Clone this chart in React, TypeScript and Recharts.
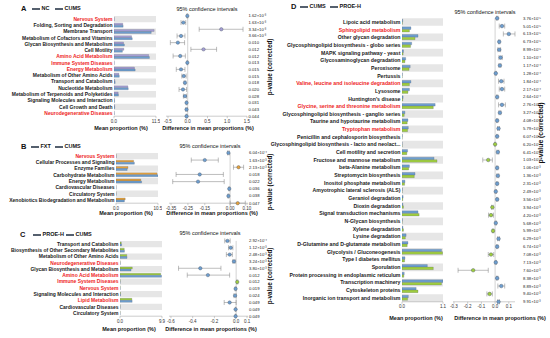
import React from 'react';
import { ComposedChart, Bar, Line, XAxis, YAxis, ErrorBar, ReferenceArea, ReferenceLine } from 'recharts';

const FONT = '"Liberation Sans", Arial, sans-serif';
const BLUE = '#6d9ecf';
const PURPLE = '#a69ed4';
const ORANGE = '#e6a23c';
const GREEN = '#9fcd3e';
const RED = '#ee1c1c';
const STRIPE = '#e6e6e6';

// ---- panel A: NC vs CUMS
const A_NAMES = [
  'Nervous System', 'Folding, Sorting and Degradation', 'Membrane Transport', 'Metabolism of Cofactors and Vitamins',
  'Glycan Biosynthesis and Metabolism', 'Cell Motility', 'Amino Acid Metabolism', 'Immune System Diseases',
  'Energy Metabolism', 'Metabolism of Other Amino Acids', 'Transport and Catabolism', 'Nucleotide Metabolism',
  'Metabolism of Terpenoids and Polyketides', 'Signaling Molecules and Interaction', 'Cell Growth and Death',
  'Neurodegenerative Diseases',
];
const A_RED = ['Nervous System', 'Amino Acid Metabolism', 'Immune System Diseases', 'Energy Metabolism', 'Neurodegenerative Diseases'];
const A_NC = [0.04, 2.4, 11.0, 4.8, 2.6, 2.7, 9.5, 0.04, 5.6, 1.35, 0.25, 3.8, 1.15, 0.12, 0.18, 0.04];
const A_CUMS = [0.05, 2.5, 10.2, 5.0, 2.85, 2.3, 9.7, 0.05, 5.8, 1.45, 0.32, 3.9, 1.22, 0.15, 0.21, 0.07];
const A_DIFF = [-0.01, -0.11, 0.85, -0.17, -0.25, 0.4, -0.19, -0.01, -0.17, -0.1, -0.07, -0.12, -0.07, -0.03, -0.03, -0.03];
const A_LOW = [-0.02, -0.17, 0.29, -0.27, -0.44, 0.08, -0.37, -0.02, -0.29, -0.15, -0.09, -0.22, -0.11, -0.04, -0.05, -0.04];
const A_HIGH = [0.0, -0.05, 1.4, -0.07, -0.08, 0.73, -0.06, 0.0, -0.07, -0.04, -0.05, -0.03, -0.03, -0.02, -0.01, -0.02];
const A_P = ['1.62×10⁻³', '1.63×10⁻³', '3.34×10⁻³', '3.66×10⁻³', '0.010', '0.012', '0.012', '0.013', '0.015', '0.015', '0.018', '0.020', '0.028', '0.031', '0.043', '0.044'];

// ---- panel B: FXT vs CUMS
const B_NAMES = [
  'Nervous System', 'Cellular Processes and Signaling', 'Enzyme Families', 'Carbohydrate Metabolism',
  'Energy Metabolism', 'Cardiovascular Diseases', 'Circulatory System', 'Xenobiotics Biodegradation and Metabolism',
];
const B_RED = ['Nervous System'];
const B_FXT = [0.04, 4.4, 3.0, 10.3, 6.2, 0.03, 0.03, 2.3];
const B_CUMS = [0.05, 4.6, 2.8, 10.5, 6.4, 0.04, 0.04, 2.1];
const B_DIFF = [-0.01, -0.15, 0.05, -0.18, -0.19, -0.005, -0.01, 0.045];
const B_LOW = [-0.015, -0.23, 0.02, -0.32, -0.34, -0.008, -0.013, 0.0];
const B_HIGH = [-0.005, -0.07, 0.08, -0.04, -0.035, -0.002, -0.007, 0.09];
const B_P = ['6.04×10⁻⁴', '1.63×10⁻³', '2.13×10⁻³', '0.018', '0.022', '0.036', '0.038', '0.047'];

// ---- panel C: PROE-H vs CUMS
const C_NAMES = [
  'Transport and Catabolism', 'Biosynthesis of Other Secondary Metabolites', 'Metabolism of Other Amino Acids',
  'Neurodegenerative Diseases', 'Glycan Biosynthesis and Metabolism', 'Amino Acid Metabolism', 'Immune System Diseases',
  'Nervous System', 'Signaling Molecules and Interaction', 'Lipid Metabolism', 'Cardiovascular Diseases', 'Circulatory System',
];
const C_RED = ['Neurodegenerative Diseases', 'Amino Acid Metabolism', 'Immune System Diseases', 'Nervous System', 'Lipid Metabolism'];
const C_PROE = [0.3, 1.0, 1.6, 0.04, 2.9, 9.6, 0.05, 0.04, 0.1, 2.8, 0.03, 0.03];
const C_CUMS = [0.38, 1.05, 1.66, 0.06, 2.6, 9.8, 0.04, 0.045, 0.11, 2.86, 0.035, 0.035];
const C_DIFF = [-0.08, -0.05, -0.06, -0.02, -0.33, -0.26, 0.01, -0.005, -0.01, -0.06, -0.005, -0.005];
const C_LOW = [-0.105, -0.07, -0.09, -0.03, -0.53, -0.45, 0.005, -0.01, -0.02, -0.11, -0.008, -0.008];
const C_HIGH = [-0.055, -0.03, -0.035, -0.01, -0.14, -0.06, 0.015, 0.0, 0.0, 0.0, -0.002, -0.002];
const C_P = ['2.92×10⁻⁴', '1.12×10⁻³', '2.48×10⁻³', '3.24×10⁻³', '3.80×10⁻³', '0.012', '0.012', '0.019', '0.024', '0.049', '0.049', '0.049'];

// ---- panel D: CUMS vs PROE-H (KEGG level 3)
const D_NAMES = [
  'Lipoic acid metabolism', 'Sphingolipid metabolism', 'Other glycan degradation', 'Glycosphingolipid biosynthesis - globo series',
  'MAPK signaling pathway - yeast', 'Glycosaminoglycan degradation', 'Peroxisome', 'Pertussis',
  'Valine, leucine and isoleucine degradation', 'Lysosome', "Huntington's disease", 'Glycine, serine and threonine metabolism',
  'Glycosphingolipid biosynthesis - ganglio series', 'Taurine and hypotaurine metabolism', 'Tryptophan metabolism',
  'Penicillin and cephalosporin biosynthesis', 'Glycosphingolipid biosynthesis - lacto and neolact...', 'Cell motility and secretion',
  'Fructose and mannose metabolism', 'beta-Alanine metabolism', 'Streptomycin biosynthesis', 'Inositol phosphate metabolism',
  'Amyotrophic lateral sclerosis (ALS)', 'Geraniol degradation', 'Dioxin degradation', 'Signal transduction mechanisms',
  'N-Glycan biosynthesis', 'Xylene degradation', 'Lysine degradation', 'D-Glutamine and D-glutamate metabolism',
  'Glycolysis / Gluconeogenesis', 'Type I diabetes mellitus', 'Sporulation', 'Protein processing in endoplasmic reticulum',
  'Transcription machinery', 'Cytoskeleton proteins', 'Inorganic ion transport and metabolism',
];
const D_RED = ['Sphingolipid metabolism', 'Valine, leucine and isoleucine degradation', 'Glycine, serine and threonine metabolism', 'Tryptophan metabolism'];
const D_CUMS = [0.02, 0.24, 0.43, 0.26, 0.04, 0.1, 0.22, 0.01, 0.24, 0.2, 0.03, 0.89, 0.08, 0.16, 0.17, 0.01, 0.005, 0.15, 0.86, 0.2, 0.35, 0.08, 0.01, 0.03, 0.025, 0.43, 0.01, 0.025, 0.11, 0.16, 1.06, 0.08, 0.68, 0.06, 1.1, 0.38, 0.17];
const D_PROE = [0.01, 0.2, 0.35, 0.23, 0.03, 0.08, 0.19, 0.005, 0.2, 0.16, 0.02, 0.84, 0.06, 0.14, 0.15, 0.005, 0.005, 0.13, 0.94, 0.18, 0.33, 0.07, 0.005, 0.02, 0.04, 0.46, 0.005, 0.04, 0.09, 0.14, 1.09, 0.07, 0.84, 0.05, 1.06, 0.43, 0.15];
const D_DIFF = [0.015, 0.05, 0.1, 0.03, 0.03, 0.04, 0.035, 0.005, 0.045, 0.05, 0.015, 0.05, 0.035, 0.015, 0.025, 0.015, 0.0, 0.02, -0.05, 0.015, 0.02, 0.015, 0.005, 0.015, -0.02, -0.03, 0.005, -0.015, 0.025, 0.015, -0.03, 0.005, -0.16, 0.015, 0.045, -0.04, 0.025];
const D_LOW = [0.01, 0.03, 0.06, 0.025, 0.02, 0.028, 0.028, 0.0, 0.025, 0.03, 0.01, 0.025, 0.028, 0.01, 0.018, 0.01, -0.004, 0.013, -0.09, 0.01, 0.013, 0.01, 0.0, 0.01, -0.026, -0.048, 0.0, -0.02, 0.018, 0.01, -0.05, 0.0, -0.27, 0.01, 0.02, -0.06, 0.018];
const D_HIGH = [0.02, 0.07, 0.145, 0.035, 0.04, 0.052, 0.042, 0.01, 0.065, 0.07, 0.02, 0.075, 0.042, 0.02, 0.032, 0.02, 0.004, 0.027, -0.02, 0.02, 0.027, 0.02, 0.01, 0.02, -0.014, -0.012, 0.01, -0.01, 0.032, 0.02, -0.01, 0.01, -0.05, 0.02, 0.07, -0.02, 0.032];
const D_P = [
  '3.76×10⁻⁵', '5.01×10⁻⁵', '6.13×10⁻⁵', '6.73×10⁻⁵', '8.99×10⁻⁵', '1.10×10⁻⁴', '1.17×10⁻⁴', '1.28×10⁻⁴', '1.84×10⁻⁴',
  '2.17×10⁻⁴', '2.64×10⁻⁴', '2.76×10⁻⁴', '3.27×10⁻⁴', '4.08×10⁻⁴', '5.79×10⁻⁴', '6.07×10⁻⁴', '6.20×10⁻⁴', '6.41×10⁻⁴',
  '1.03×10⁻³', '1.06×10⁻³', '1.36×10⁻³', '2.31×10⁻³', '2.49×10⁻³', '3.56×10⁻³', '3.94×10⁻³', '4.20×10⁻³', '5.68×10⁻³',
  '5.99×10⁻³', '6.29×10⁻³', '6.74×10⁻³', '7.08×10⁻³', '7.13×10⁻³', '7.60×10⁻³', '8.38×10⁻³', '8.89×10⁻³', '9.40×10⁻³', '9.91×10⁻³',
];

type Cfg = {
  names: string[]; red: string[];
  g1: number[]; g2: number[]; c1: string; c2: string;
  diff: number[]; low: number[]; high: number[]; p: string[];
  posColor: string; negColor: string;
  top: number; bottom: number;
  barLeft: number; barRight: number; barMax: number;
  ciLeft: number; ciRight: number; ciDomain: [number, number]; ciTicks: number[]; ciDigits: number;
  pGap: number; barSize: number; fs: number; dotR: number;
};

const PANELS: Cfg[] = [
  {
    names: A_NAMES, red: A_RED, g1: A_NC, g2: A_CUMS, c1: PURPLE, c2: BLUE,
    diff: A_DIFF, low: A_LOW, high: A_HIGH, p: A_P, posColor: PURPLE, negColor: BLUE,
    top: 15.9, bottom: 116.2, barLeft: 114, barRight: 156, barMax: 11.5,
    ciLeft: 166, ciRight: 247, ciDomain: [-0.55, 1.5], ciTicks: [-0.5, 0, 0.5, 1, 1.5], ciDigits: 1,
    pGap: 1.5, barSize: 2, fs: 5, dotR: 1.7,
  },
  {
    names: B_NAMES, red: B_RED, g1: B_FXT, g2: B_CUMS, c1: ORANGE, c2: BLUE,
    diff: B_DIFF, low: B_LOW, high: B_HIGH, p: B_P, posColor: ORANGE, negColor: BLUE,
    top: 152.9, bottom: 203.2, barLeft: 116, barRight: 158, barMax: 10.5,
    ciLeft: 169, ciRight: 248, ciDomain: [-0.362, 0.106], ciTicks: [-0.35, -0.25, -0.15, -0.05, 0, 0.1], ciDigits: 2,
    pGap: 1, barSize: 2, fs: 5, dotR: 1.7,
  },
  {
    names: C_NAMES, red: C_RED, g1: C_PROE, g2: C_CUMS, c1: GREEN, c2: BLUE,
    diff: C_DIFF, low: C_LOW, high: C_HIGH, p: C_P, posColor: GREEN, negColor: BLUE,
    top: 240.9, bottom: 316.2, barLeft: 120, barRight: 162, barMax: 9.9,
    ciLeft: 169, ciRight: 248, ciDomain: [-0.618, 0.109], ciTicks: [-0.6, -0.5, -0.4, -0.3, -0.2, -0.1, 0, 0.1], ciDigits: 1,
    pGap: 1, barSize: 2, fs: 5, dotR: 1.7,
  },
  {
    names: D_NAMES, red: D_RED, g1: D_CUMS, g2: D_PROE, c1: BLUE, c2: GREEN,
    diff: D_DIFF, low: D_LOW, high: D_HIGH, p: D_P, posColor: BLUE, negColor: GREEN,
    top: 18.2, bottom: 301.8, barLeft: 402, barRight: 443, barMax: 1.1,
    ciLeft: 453, ciRight: 515, ciDomain: [-0.307, 0.145], ciTicks: [-0.3, -0.2, -0.1, 0, 0.1], ciDigits: 1,
    pGap: 8, barSize: 2.6, fs: 5.2, dotR: 1.8,
  },
];

const axisTick = { fontSize: 4.5, fill: '#333', fontFamily: FONT };

function MeanBars({ cfg }: { cfg: Cfg }) {
  const data = cfg.names.map((name, i) => ({ name, g1: cfg.g1[i], g2: cfg.g2[i] }));
  const W = cfg.barRight + 4;
  const H = cfg.bottom + 14;

  const renderTick = (props: any) => {
    const { x, y, payload } = props;
    const isRed = cfg.red.includes(payload.value);
    return (
      <text x={x} y={y} dy={cfg.fs * 0.35} textAnchor="end" fontSize={cfg.fs} fontFamily={FONT}
        fill={isRed ? RED : '#1a1a1a'} fontWeight={600}>
        {payload.value}
      </text>
    );
  };

  return (
    <div style={{ position: 'absolute', left: 0, top: 0 }}>
      <ComposedChart width={W} height={H} data={data} layout="vertical" barGap={0}
        margin={{ top: cfg.top, right: 4, left: 0, bottom: 0 }}>
        {data.map((d, i) => (i % 2 === 0 ? (
          <ReferenceArea key={`s-${d.name}`} y1={d.name} y2={d.name} fill={STRIPE} fillOpacity={1} stroke="none" />
        ) : null))}
        <XAxis type="number" domain={[0, cfg.barMax]} ticks={[0, cfg.barMax]} height={14} tick={axisTick}
          tickFormatter={(v: number) => v.toFixed(1)} tickSize={2} tickMargin={1.5}
          stroke="#999" strokeWidth={0.5} allowDataOverflow />
        <YAxis type="category" dataKey="name" width={cfg.barLeft} interval={0} tick={renderTick}
          tickLine={false} axisLine={false} tickSize={0} tickMargin={1.5} />
        <Bar dataKey="g1" fill={cfg.c1} stroke="#55606e" strokeWidth={0.25} barSize={cfg.barSize} isAnimationActive={false} />
        <Bar dataKey="g2" fill={cfg.c2} stroke="#55606e" strokeWidth={0.25} barSize={cfg.barSize} isAnimationActive={false} />
      </ComposedChart>
    </div>
  );
}

function DiffCI({ cfg }: { cfg: Cfg }) {
  const data = cfg.names.map((name, i) => ({
    name,
    diff: cfg.diff[i],
    err: [cfg.diff[i] - cfg.low[i], cfg.high[i] - cfg.diff[i]],
  }));
  const W = cfg.ciRight + 40;
  const H = cfg.bottom + 14;

  const renderDot = (props: any) => {
    const { cx, cy, index, payload } = props;
    if (cx == null || cy == null) return <g key={`d-${index}`} />;
    const fill = payload.diff > 0 ? cfg.posColor : cfg.negColor;
    return <circle key={`d-${index}`} cx={cx} cy={cy} r={cfg.dotR} fill={fill} stroke="#4a5568" strokeWidth={0.4} />;
  };

  return (
    <div style={{ position: 'absolute', left: 0, top: 0 }}>
      <ComposedChart width={W} height={H} data={data} layout="vertical"
        margin={{ top: cfg.top, right: 0, left: cfg.ciLeft, bottom: 0 }}>
        {data.map((d, i) => (i % 2 === 0 ? (
          <ReferenceArea key={`s-${d.name}`} y1={d.name} y2={d.name} fill={STRIPE} fillOpacity={1} stroke="none" />
        ) : null))}
        <ReferenceLine x={0} stroke="#b5b5b5" strokeWidth={0.6} />
        <XAxis type="number" domain={cfg.ciDomain} ticks={cfg.ciTicks} height={14} tick={axisTick}
          tickFormatter={(v: number) => v.toFixed(cfg.ciDigits)} tickSize={2} tickMargin={1.5}
          stroke="#999" strokeWidth={0.5} allowDataOverflow />
        <YAxis type="category" dataKey="name" orientation="right" width={40} interval={0}
          tickFormatter={(_v: string, i: number) => cfg.p[i]} tick={{ fontSize: 4.2, fill: '#222', fontFamily: FONT, textAnchor: 'start' }}
          tickLine={false} axisLine={false} tickSize={0} tickMargin={cfg.pGap} />
        <Line dataKey="diff" stroke="none" isAnimationActive={false} dot={renderDot} activeDot={false}>
          <ErrorBar dataKey="err" direction="x" width={2.5} stroke="#7a7a7a" strokeWidth={0.5} />
        </Line>
      </ComposedChart>
    </div>
  );
}

function Txt({ x, y, children, size = 5.5, bold = false, anchor = 'middle', rotate = false }: any) {
  const tx = anchor === 'middle' ? '-50%' : '0';
  return (
    <div style={{
      position: 'absolute', left: x, top: y, whiteSpace: 'nowrap', fontSize: size, lineHeight: 1,
      fontWeight: bold ? 700 : 400, color: '#111',
      transform: `translate(${rotate ? '-50%' : tx}, -50%)${rotate ? ' rotate(-90deg)' : ''}`,
    }}>{children}</div>
  );
}

function Legend({ letter, x, y, items }: { letter: string; x: number; y: number; items: { label: string; color: string; at: number }[] }) {
  return (
    <>
      <Txt x={x} y={y} size={7.5} bold anchor="start">{letter}</Txt>
      {items.map((it) => (
        <React.Fragment key={it.label}>
          <div style={{ position: 'absolute', left: it.at, top: y - 1.3, width: 7.5, height: 2.6, background: it.color, border: '0.3px solid #55606e', boxSizing: 'border-box' }} />
          <Txt x={it.at + 9.5} y={y} size={5.5} bold anchor="start">{it.label}</Txt>
        </React.Fragment>
      ))}
    </>
  );
}

export default function App() {
  return (
    <div style={{ position: 'absolute', left: 0, top: 0, width: 550, height: 338, overflow: 'hidden', background: '#fff', fontFamily: FONT }}>
      {PANELS.map((cfg, i) => (
        <React.Fragment key={i}>
          <MeanBars cfg={cfg} />
          <DiffCI cfg={cfg} />
        </React.Fragment>
      ))}

      <Legend letter="A" x={21} y={9} items={[{ label: 'NC', color: PURPLE, at: 32 }, { label: 'CUMS', color: BLUE, at: 55 }]} />
      <Legend letter="B" x={21} y={147} items={[{ label: 'FXT', color: ORANGE, at: 31 }, { label: 'CUMS', color: BLUE, at: 55 }]} />
      <Legend letter="C" x={20} y={235} items={[{ label: 'PROE-H', color: GREEN, at: 33 }, { label: 'CUMS', color: BLUE, at: 66 }]} />
      <Legend letter="D" x={291} y={7} items={[{ label: 'CUMS', color: BLUE, at: 300 }, { label: 'PROE-H', color: GREEN, at: 330 }]} />

      <Txt x={207} y={10}>95% confidence intervals</Txt>
      <Txt x={210} y={147}>95% confidence intervals</Txt>
      <Txt x={210} y={234}>95% confidence intervals</Txt>
      <Txt x={485} y={13}>95% confidence intervals</Txt>

      <Txt x={121} y={129} bold>Mean proportion (%)</Txt>
      <Txt x={126} y={214} bold>Mean proportion (%)</Txt>
      <Txt x={129} y={330} bold>Mean proportion (%)</Txt>
      <Txt x={416} y={319} bold>Mean proportion (%)</Txt>

      <Txt x={208} y={129} bold>Difference in mean proportions (%)</Txt>
      <Txt x={212} y={214} bold>Difference in mean proportions (%)</Txt>
      <Txt x={211} y={330} bold>Difference in mean proportions (%)</Txt>
      <Txt x={500} y={319} bold>Difference in mean proportions (%)</Txt>

      <Txt x={270} y={67} size={6.3} bold rotate>p-value (corrected)</Txt>
      <Txt x={270} y={182} size={6.3} bold rotate>p-value (corrected)</Txt>
      <Txt x={270} y={276} size={6.3} bold rotate>p-value (corrected)</Txt>
      <Txt x={541} y={133} size={6.8} bold rotate>p-value (corrected)</Txt>
    </div>
  );
}
